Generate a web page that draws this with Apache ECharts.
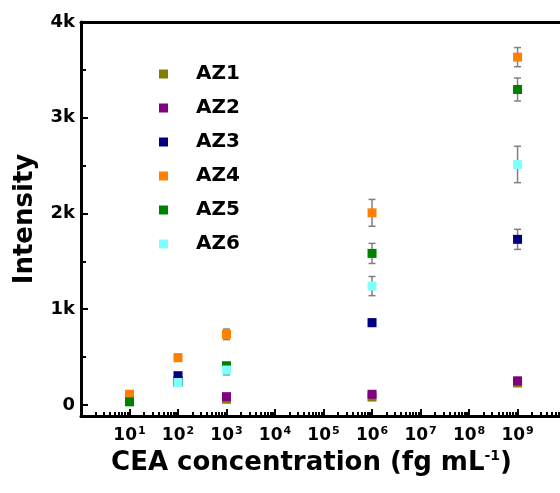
<!DOCTYPE html>
<html><head><meta charset="utf-8">
<script src="https://cdn.jsdelivr.net/npm/echarts@6/dist/echarts.min.js"></script>
<style>html,body{margin:0;padding:0;background:#fff}#c{width:560px;height:493px}</style>
</head><body><div id="c"></div>
<script>
var concentrations = [10, 100, 1000, 1e6, 1e9];
var seriesNames = ['AZ1', 'AZ2', 'AZ3', 'AZ4', 'AZ5', 'AZ6'];
var AZ1 = [50, 240, 60, 83, 230];
var AZ2 = [60, 255, 87, 112, 252];
var AZ3 = [70, 306, 390, 860, 1730];
var AZ4 = [112, 494, 738, 2007, 3633];
var AZ5 = [33, 235, 410, 1583, 3295];
var AZ6 = [null, 235, 365, 1242, 2512];
var AZ1err = [15, 20, 20, 25, 30];
var AZ2err = [15, 20, 25, 30, 35];
var AZ3err = [15, 25, 30, 40, 105];
var AZ4err = [30, 35, 55, 140, 100];
var AZ5err = [15, 25, 30, 105, 120];
var AZ6err = [15, 40, 50, 100, 190];
var yTickValues = [0, 1000, 2000, 3000, 4000];
var yTickLabels = ['0', '1k', '2k', '3k', '4k'];
var yMinorTicks = [500, 1500, 2500, 3500];
var xTickValues = [1, 10, 100, 1e3, 1e4, 1e5, 1e6, 1e7, 1e8, 1e9];
var xLabelValues = [10, 100, 1e3, 1e4, 1e5, 1e6, 1e7, 1e8, 1e9];

var colors = ['#808000', '#800080', '#000080', '#FF8000', '#008000', '#80FFFF'];
var values = [AZ1, AZ2, AZ3, AZ4, AZ5, AZ6];
var errs = [AZ1err, AZ2err, AZ3err, AZ4err, AZ5err, AZ6err];

var xMinor = [];
for (var k = 0; k < 10; k++) {
  for (var m = 2; m <= 9; m++) xMinor.push(m * Math.pow(10, k));
}

var FONT = 'DejaVu Sans';
var series = [];
values.forEach(function (vals, i) {
  var d = [];
  concentrations.forEach(function (x, j) { if (vals[j] != null) d.push([x, vals[j], errs[i][j]]); });
  series.push({
    type: 'custom',
    name: seriesNames[i] + ' err',
    xAxisIndex: 0, yAxisIndex: 0,
    z: 1,
    silent: true,
    data: d,
    renderItem: function (params, api) {
      var x = api.value(0), y = api.value(1), e = api.value(2);
      var hi = api.coord([x, y + e]);
      var lo = api.coord([x, y - e]);
      var hw = 3.5;
      var st = { stroke: '#808080', lineWidth: 1.5 };
      return {
        type: 'group',
        children: [
          { type: 'line', shape: { x1: hi[0], y1: hi[1], x2: lo[0], y2: lo[1] }, style: st },
          { type: 'line', shape: { x1: hi[0] - hw, y1: hi[1], x2: hi[0] + hw, y2: hi[1] }, style: st },
          { type: 'line', shape: { x1: lo[0] - hw, y1: lo[1], x2: lo[0] + hw, y2: lo[1] }, style: st }
        ]
      };
    }
  });
});
values.forEach(function (vals, i) {
  var d = [];
  concentrations.forEach(function (x, j) { if (vals[j] != null) d.push([x, vals[j]]); });
  series.push({
    type: 'scatter',
    name: seriesNames[i],
    xAxisIndex: 0, yAxisIndex: 0,
    z: 3,
    symbol: 'rect',
    symbolSize: 9,
    itemStyle: { color: colors[i], opacity: 1 },
    data: d
  });
});

var chart = echarts.init(document.getElementById('c'));
chart.setOption({
  animation: false,
  backgroundColor: '#fff',
  color: colors,
  legend: {
    data: seriesNames.map(function (n, i) { return { name: n, icon: 'rect', itemStyle: { color: colors[i], opacity: 1 } }; }),
    orient: 'vertical',
    left: 154,
    top: 57,
    itemWidth: 9,
    itemHeight: 9,
    itemGap: 10,
    textStyle: { fontFamily: FONT, fontWeight: 'bold', fontSize: 20, color: '#000', lineHeight: 24, padding: [0, 0, 0, 23] }
  },
  grid: { left: 81, right: 0, top: 22, bottom: 77, containLabel: false },
  xAxis: [{
    type: 'log',
    min: 1, max: 7.5e9,
    position: 'bottom',
    name: 'CEA concentration (fg mL{s|-1})',
    nameLocation: 'middle',
    nameGap: 30,
    nameTextStyle: {
      fontFamily: FONT, fontWeight: 'bold', fontSize: 26, color: '#000', padding: [0, 18, 0, 0],
      rich: { s: { fontFamily: FONT, fontWeight: 'bold', fontSize: 14, color: '#000', verticalAlign: 'top', padding: [0, 0, 14, 0] } }
    },
    axisLine: { show: true, onZero: false, lineStyle: { color: '#000', width: 3 } },
    axisTick: { show: true, inside: true, length: 7, lineStyle: { color: '#000', width: 2 }, customValues: xTickValues },
    splitLine: { show: false },
    axisLabel: {
      customValues: xLabelValues,
      margin: 10,
      formatter: function (v) { return '{b|10}{s|' + Math.round(Math.log10(v)) + '}'; },
      rich: {
        b: { fontFamily: FONT, fontWeight: 'bold', fontSize: 17, color: '#000' },
        s: { fontFamily: FONT, fontWeight: 'bold', fontSize: 11, color: '#000', verticalAlign: 'top', padding: [0, 0, 8, 1] }
      }
    }
  }, {
    type: 'log',
    min: 1, max: 7.5e9,
    position: 'bottom',
    axisLine: { show: false, onZero: false },
    axisLabel: { show: false },
    splitLine: { show: false },
    axisTick: { show: true, inside: true, length: 4, lineStyle: { color: '#000', width: 2 }, customValues: xMinor }
  }, {
    type: 'log',
    min: 1, max: 7.5e9,
    position: 'top',
    axisLine: { show: true, onZero: false, lineStyle: { color: '#000', width: 3 } },
    axisLabel: { show: false },
    axisTick: { show: false },
    splitLine: { show: false }
  }],
  yAxis: [{
    type: 'value',
    min: -115, max: 4000,
    position: 'left',
    name: 'Intensity',
    nameLocation: 'middle',
    nameGap: 43,
    nameTextStyle: { fontFamily: FONT, fontWeight: 'bold', fontSize: 26, color: '#000' },
    axisLine: { show: true, onZero: false, lineStyle: { color: '#000', width: 3 } },
    axisTick: { show: true, inside: true, length: 7, lineStyle: { color: '#000', width: 2 }, customValues: yTickValues },
    splitLine: { show: false },
    axisLabel: {
      customValues: yTickValues,
      margin: 6,
      fontFamily: FONT, fontWeight: 'bold', fontSize: 18, color: '#000',
      formatter: function (v) { return yTickLabels[yTickValues.indexOf(v)]; }
    }
  }, {
    type: 'value',
    min: -115, max: 4000,
    position: 'left',
    axisLine: { show: false, onZero: false },
    axisLabel: { show: false },
    splitLine: { show: false },
    axisTick: { show: true, inside: true, length: 5, lineStyle: { color: '#000', width: 2 }, customValues: yMinorTicks }
  }],
  series: series
});
</script>
</body></html>
